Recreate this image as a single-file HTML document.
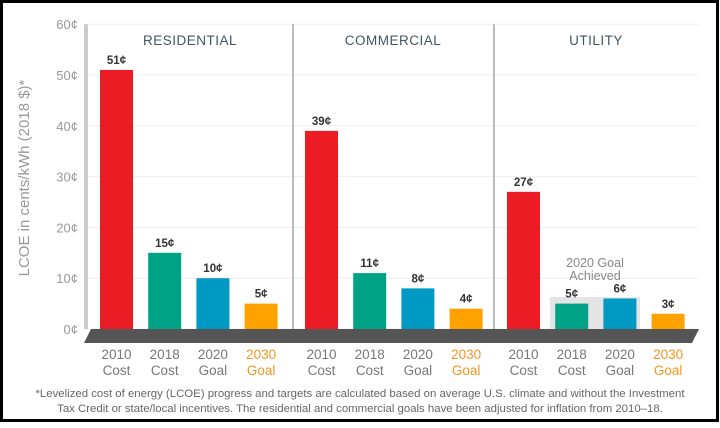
<!DOCTYPE html>
<html><head><meta charset="utf-8"><style>
body{margin:0;background:#fff}
svg text{font-family:"Liberation Sans",sans-serif}
</style></head><body>
<svg id="c" width="720" height="423" viewBox="0 0 720 423" xmlns="http://www.w3.org/2000/svg">
<rect x="1.5" y="1.5" width="716" height="419" fill="#fff" stroke="#000" stroke-width="3"/>
<g id="grid"></g>
<g id="bars"></g>
<g id="labels"></g>
</svg>
<script>
const groups=["RESIDENTIAL","COMMERCIAL","UTILITY"];
const categories=["2010|Cost","2018|Cost","2020|Goal","2030|Goal"];
const residential=[51,15,10,5];
const commercial=[39,11,8,4];
const utility=[27,5,6,3];
const yTicks=[0,10,20,30,40,50,60];
const series=[residential,commercial,utility];
const colors=["#ec1c24","#00a286","#0099c3","#ffa200"];
const NS="http://www.w3.org/2000/svg";
const svg=document.getElementById('c');
const y=v=>329-v*5.08;
const groupX=[100,305,507];
const barX=(g,i)=>groupX[g]+i*48.2;
function mk(t,a,p){const e=document.createElementNS(NS,t);for(const k in a)e.setAttribute(k,a[k]);(p||svg).appendChild(e);return e;}
const grid=document.getElementById('grid'),bars=document.getElementById('bars'),lab=document.getElementById('labels');
yTicks.forEach(v=>{
  const l=mk('line',{x1:88,x2:698,y1:y(v),y2:y(v),stroke:'#eeeeee','stroke-width':1},grid);
  
  
  const t=mk('text',{x:78,y:y(v)+5,'text-anchor':'end','font-size':13,fill:'#999'},lab);
  t.textContent=v+'¢';
  
  
});
[[86,4,'#ccc'],[293,2,'#bbb'],[494,2,'#bbb']].forEach((d,i)=>{
  const l=mk('rect',{x:d[0]-d[1]/2,y:y(60),width:d[1],height:y(0)-y(60),fill:d[2]},grid);
  
  
});
const yt=mk('text',{x:0,y:0,transform:'translate(29,178) rotate(-90)','text-anchor':'middle','font-size':15,fill:'#999'},lab);
yt.textContent='LCOE in cents/kWh (2018 $)*';


const hb=mk('rect',{x:550,y:y(6.3),width:90,height:y(0)-y(6.3),fill:'#e4e4e4'},bars);


const ga=mk('text',{x:595,y:267,'text-anchor':'middle','font-size':12.5,fill:'#888'},lab);
ga.innerHTML='<tspan x="595">2020 Goal</tspan><tspan x="595" dy="13">Achieved</tspan>';


groups.forEach((g,gi)=>{
  const gt=mk('text',{x:gi==0?190:gi==1?393:596,y:45,'text-anchor':'middle','font-size':13.5,fill:'#445560','letter-spacing':'0.5'},lab);
  gt.textContent=g;
  
  
  series[gi].forEach((v,i)=>{
    const x=barX(gi,i);
    const r=mk('rect',{x:x,y:y(v),width:33,height:y(0)-y(v),fill:colors[i]},bars);
    
    
    const vt=mk('text',{x:x+16.5,y:y(v)-6,'text-anchor':'middle','font-size':11.5,'font-weight':'bold',fill:'#333'},lab);
    vt.textContent=v+'¢';
    
    
    const parts=categories[i].split('|');
    const ct=mk('text',{x:x+16.5,y:359,'text-anchor':'middle','font-size':13.5,fill:i==3?'#f7941d':'#777'},lab);
    ct.innerHTML='<tspan x="'+(x+16.5)+'">'+parts[0]+'</tspan><tspan x="'+(x+16.5)+'" dy="16">'+parts[1]+'</tspan>';
    
    
  });
});
const band=mk('polygon',{points:'91,329 699,329 692,343 84,343',fill:'#555'},bars);


const fn=mk('text',{x:360,y:397,'text-anchor':'middle','font-size':11.4,fill:'#666'},lab);
fn.innerHTML='<tspan x="360">*Levelized cost of energy (LCOE) progress and targets are calculated based on average U.S. climate and without the Investment</tspan><tspan x="360" dy="15">Tax Credit or state/local incentives. The residential and commercial goals have been adjusted for inflation from 2010–18.</tspan>';


</script>
</body></html>
